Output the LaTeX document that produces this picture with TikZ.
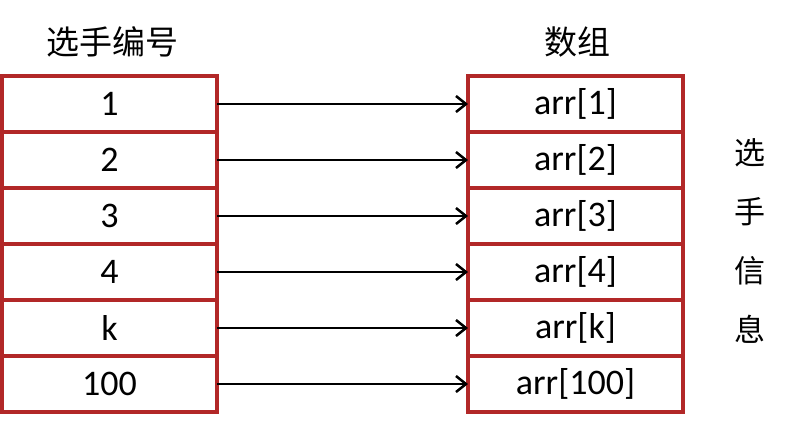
\documentclass[tikz,border=0pt]{standalone}
\usepackage{fontspec}
\setmainfont{Carlito}
\newfontfamily\cjk{Noto Sans CJK SC}
\usetikzlibrary{arrows.meta}
\definecolor{boxred}{RGB}{178,40,40}
\tikzset{
  cell/.style={draw=boxred, line width=3.5pt, minimum width=215pt, minimum height=56pt,
    inner sep=0pt, outer sep=0pt, font=\fontsize{36}{40}\selectfont},
  link/.style={line width=2.5pt, -{Straight Barb[length=10pt,width=16pt,line width=2.5pt]}},
  title/.style={font=\fontsize{33}{40}\selectfont\cjk},
}
\begin{document}
\begin{tikzpicture}[x=1pt,y=1pt]
\useasboundingbox (0,0) rectangle (789,-432);

\node[title] (numtitle) at (112,-42) {选手编号};
\node[title] (arrtitle) at (577,-42) {数组};

%player numbers
\node[cell] (n1) at (109.5,-104) {1};
\node[cell] (n2) at (109.5,-160) {2};
\node[cell] (n3) at (109.5,-216) {3};
\node[cell] (n4) at (109.5,-272) {4};
\node[cell] (nk) at (109.5,-328) {k};
\node[cell] (n100) at (109.5,-384) {100};

%array slots
\node[cell] (a1) at (575.5,-104) {arr[1]};
\node[cell] (a2) at (575.5,-160) {arr[2]};
\node[cell] (a3) at (575.5,-216) {arr[3]};
\node[cell] (a4) at (575.5,-272) {arr[4]};
\node[cell] (ak) at (575.5,-328) {arr[k]};
\node[cell] (a100) at (575.5,-384) {arr[100]};

\draw[link] (n1) -- (a1);
\draw[link] (n2) -- (a2);
\draw[link] (n3) -- (a3);
\draw[link] (n4) -- (a4);
\draw[link] (nk) -- (ak);
\draw[link] (n100) -- (a100);

%side label
\node[title, align=center, font=\fontsize{31}{59}\selectfont\cjk] (info) at (750,-241) {选\\手\\信\\息};
\end{tikzpicture}
\end{document}
